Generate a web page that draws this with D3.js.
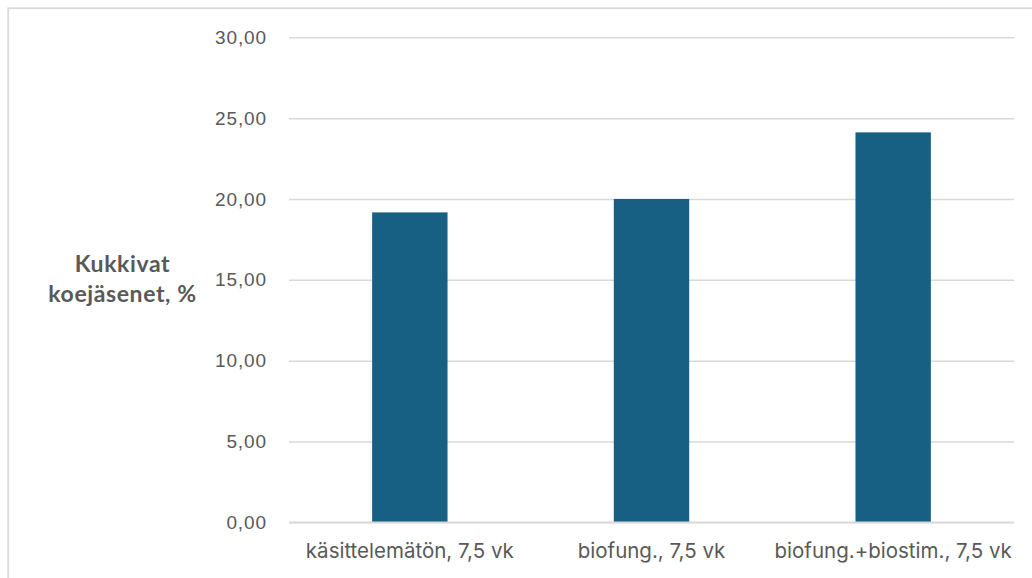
<!DOCTYPE html>
<html>
<head>
<meta charset="utf-8">
<script src="https://cdn.jsdelivr.net/npm/d3@7"></script>
<style>
  html, body { margin: 0; padding: 0; background: #fff; }
  svg { display: block; }
</style>
</head>
<body>
<svg id="chart" width="1032" height="578"></svg>
<script>
// Flowering plots (%) per treatment at 7.5 weeks
const categories = ["käsittelemätön, 7,5 vk", "biofung., 7,5 vk", "biofung.+biostim., 7,5 vk"];
const values = [19.17, 20.0, 24.12];
const yTicks = [0, 5, 10, 15, 20, 25, 30];
const yTitleLines = ["Kukkivat", "koejäsenet, %"];

const svg = d3.select("#chart");
const W = 1032, H = 578;
const margin = { left: 289, right: 18, top: 37.3, bottom: 55.7 };

// Chart frame
svg.append("rect")
  .attr("x", 8.2).attr("y", 8.2)
  .attr("width", W + 20).attr("height", H + 20)
  .attr("fill", "#fff")
  .attr("stroke", "#d9d9d9").attr("stroke-width", 1.8);

const x = d3.scaleBand()
  .domain(categories)
  .range([margin.left, W - margin.right])
  .paddingInner(0.688)
  .paddingOuter(0.344);

const y = d3.scaleLinear()
  .domain([0, 30])
  .range([H - margin.bottom, margin.top]);

const fmt = v => d3.format(".2f")(v).replace(".", ",");

// Gridlines and tick labels
const yAxis = d3.axisLeft(y)
  .tickValues(yTicks)
  .tickSize(-(W - margin.right - margin.left))
  .tickPadding(22)
  .tickFormat(fmt);

const gy = svg.append("g")
  .attr("transform", `translate(${margin.left},0)`)
  .call(yAxis);
gy.select(".domain").remove();
gy.selectAll(".tick line")
  .attr("stroke", "#d9d9d9").attr("stroke-width", 1.5);
gy.selectAll(".tick text")
  .attr("fill", "#595959")
  .style("font-family", "'Liberation Sans', Arial, sans-serif")
  .style("font-size", "19px")
  .style("letter-spacing", "0.9px");

// Bars
svg.append("g").selectAll("rect")
  .data(values)
  .join("rect")
  .attr("x", (d, i) => x(categories[i]))
  .attr("width", x.bandwidth())
  .attr("y", d => y(d))
  .attr("height", d => y(0) - y(d))
  .attr("fill", "#186083");

// Category axis
const xAxis = d3.axisBottom(x).tickSize(0).tickPadding(21);
const gx = svg.append("g")
  .attr("transform", `translate(0,${y(0)})`)
  .call(xAxis);
gx.select(".domain").remove();
gx.selectAll(".tick text")
  .attr("fill", "#595959")
  .style("font-family", "Inter, 'Liberation Sans', sans-serif")
  .style("font-size", "20.5px");

// Baseline
svg.append("line")
  .attr("x1", margin.left).attr("x2", W - margin.right)
  .attr("y1", y(0)).attr("y2", y(0))
  .attr("stroke", "#d9d9d9").attr("stroke-width", 1.8);

// Y-axis title
const title = svg.append("text")
  .attr("text-anchor", "middle")
  .attr("fill", "#595959")
  .style("font-family", "Lato, sans-serif")
  .style("font-weight", "bold")
  .style("font-size", "23px")
  .style("letter-spacing", "0.6px");
title.selectAll("tspan")
  .data(yTitleLines)
  .join("tspan")
  .attr("x", 122.5)
  .attr("y", (d, i) => 272 + i * 30)
  .text(d => d);
</script>
</body>
</html>
